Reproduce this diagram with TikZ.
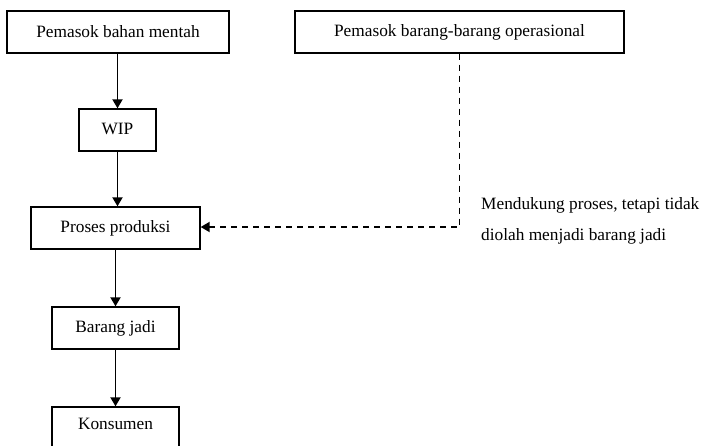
\documentclass[tikz,border=0pt]{standalone}
\usepackage{fontspec}
\setmainfont{Liberation Serif}
\usetikzlibrary{arrows.meta}
\begin{document}
\begin{tikzpicture}[x=1pt,y=-1pt,
  box/.style={draw,line width=1.3pt,inner sep=0pt,minimum height=42pt,font=\fontsize{17.3}{20}\selectfont},
  arr/.style={line width=1.8pt,-{Triangle[length=9pt,width=10pt]}},
  darr/.style={line width=1.8pt,dash pattern=on 6pt off 5pt,-{Triangle[length=9pt,width=10pt]}}]
\useasboundingbox (0,0) rectangle (704,445);
\clip (0,0) rectangle (704,445);
\node[box,minimum width=222pt] (b1) at (118,32) {\raisebox{2pt}{Pemasok bahan mentah}};
\node[box,minimum width=329pt] (b2) at (459.5,32) {\raisebox{2pt}{Pemasok barang-barang operasional}};
\node[box,minimum width=77pt] (wip) at (117.5,130) {\raisebox{2pt}{WIP}};
\node[box,minimum width=169pt] (pro) at (115.5,228) {\raisebox{2pt}{Proses produksi}};
\node[box,minimum width=127pt] (bj) at (115.5,328) {\raisebox{2pt}{Barang jadi}};
\node[box,minimum width=127pt,minimum height=50pt,text depth=0pt] (kon) at (115.5,432) {\raisebox{16pt}{Konsumen}};
\node[anchor=west,align=left,inner sep=0pt,font=\fontsize{17.3}{31}\selectfont] (lbl) at (481,221) {Mendukung proses, tetapi tidak\\diolah menjadi barang jadi};
\draw[arr] (wip.north |- b1.south) -- (wip.north);
\draw[arr] (wip.south) -- (wip.south |- pro.north);
\draw[arr] (bj.north |- pro.south) -- (bj.north);
\draw[arr] (bj.south) -- (kon.north);
\draw[darr] (b2.south) |- ([yshift=1pt]pro.east);
\end{tikzpicture}
\end{document}
